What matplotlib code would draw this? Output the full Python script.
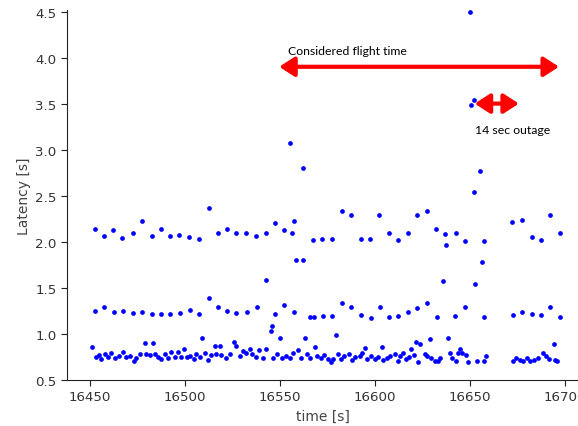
import matplotlib.pyplot as plt

# upper band (~2 s latency)
t_high = [16452.6, 16457.2, 16462.1, 16467.0, 16472.5, 16477.6, 16482.6, 16487.3,
          16492.2, 16497.1, 16502.2, 16507.7, 16512.6, 16517.4, 16522.3, 16527.2,
          16532.3, 16537.4, 16542.7, 16547.5, 16552.4, 16556.2, 16557.5, 16558.7,
          16562.4, 16567.3, 16572.1, 16577.5, 16582.5, 16587.4, 16592.5, 16597.4,
          16602.1, 16607.4, 16612.4, 16617.4, 16622.4, 16627.3, 16632.1, 16637.0,
          16637.5, 16642.6, 16647.5, 16656.2, 16657.5, 16672.2, 16677.6, 16682.7,
          16687.6, 16692.4, 16697.3]
lat_high = [2.14, 2.06, 2.13, 2.04, 2.10, 2.23, 2.06, 2.14,
            2.06, 2.07, 2.05, 2.03, 2.37, 2.10, 2.14, 2.10,
            2.10, 2.06, 2.10, 2.20, 2.13, 2.10, 2.23, 1.80,
            1.80, 2.02, 2.03, 2.03, 2.33, 2.29, 2.03, 2.03,
            2.29, 2.09, 2.02, 2.09, 2.29, 2.33, 2.14, 2.08,
            1.96, 2.10, 2.01, 1.78, 2.01, 2.21, 2.24, 2.05,
            2.02, 2.29, 2.09]

# outliers
t_out = [16555.2, 16562.4, 16650.2, 16650.7, 16652.5, 16655.3, 16652.5,
         16542.7, 16636.1, 16652.8]
lat_out = [3.07, 2.80, 4.49, 3.48, 3.54, 2.77, 2.54,
           1.59, 1.57, 1.54]

# middle band (~1.2 s latency)
t_mid = [16452.6, 16457.2, 16462.7, 16467.6, 16472.7, 16477.6, 16482.6, 16487.3,
         16492.2, 16497.7, 16502.8, 16507.7, 16512.6, 16517.4, 16522.3, 16527.2,
         16532.8, 16537.8, 16547.5, 16552.4, 16557.5, 16545.9, 16545.4, 16550.1,
         16509.1, 16566.1, 16567.8, 16572.8, 16577.5, 16582.5, 16587.4, 16592.5,
         16597.9, 16602.9, 16607.4, 16612.4, 16617.4, 16622.4, 16627.3, 16633.0,
         16642.5, 16647.5, 16657.5, 16672.7, 16677.6, 16682.7, 16687.6, 16692.4,
         16697.3, 16579.4, 16563.1, 16638.4, 16629.1, 16694.2]
lat_mid = [1.25, 1.29, 1.24, 1.25, 1.23, 1.24, 1.22, 1.22,
           1.22, 1.23, 1.26, 1.22, 1.39, 1.29, 1.25, 1.23,
           1.24, 1.29, 1.22, 1.31, 1.24, 1.09, 1.03, 0.95,
           0.95, 1.18, 1.18, 1.19, 1.19, 1.34, 1.29, 1.20,
           1.17, 1.29, 1.18, 1.19, 1.24, 1.28, 1.34, 1.18,
           1.19, 1.29, 1.18, 1.20, 1.24, 1.22, 1.20, 1.29,
           1.18, 0.99, 0.96, 0.95, 0.94, 0.89]

# lower band (~0.75 s latency)
t_low = [16451.2, 16453.0, 16454.7, 16456.0, 16457.8, 16459.5, 16461.2, 16463.0,
         16465.3, 16467.4, 16468.8, 16470.9, 16473.1, 16474.4, 16476.2, 16478.9,
         16479.4, 16481.5, 16483.2, 16484.1, 16485.9, 16487.6, 16489.4, 16491.2,
         16492.9, 16494.7, 16496.4, 16498.2, 16499.4, 16501.2, 16502.9, 16504.7,
         16506.1, 16508.2, 16510.5, 16512.3, 16514.0, 16515.8, 16516.6, 16518.4,
         16519.3, 16521.6, 16523.7, 16525.8, 16527.2, 16529.0, 16530.4, 16532.1,
         16534.3, 16535.6, 16537.4, 16539.2, 16540.9, 16543.0, 16546.6, 16548.3,
         16551.0, 16553.3, 16555.4, 16557.1, 16559.8, 16561.0, 16564.1, 16565.9,
         16568.6, 16569.4, 16571.5, 16573.3, 16575.6, 16576.8, 16577.9, 16580.5,
         16582.3, 16584.0, 16586.3, 16588.1, 16589.8, 16592.0, 16593.4, 16595.1,
         16595.8, 16598.1, 16599.9, 16601.6, 16603.9, 16604.3, 16606.4, 16608.2,
         16610.4, 16612.2, 16613.4, 16614.8, 16616.2, 16618.0, 16619.2, 16620.4,
         16621.5, 16622.7, 16624.0, 16626.3, 16627.5, 16629.8, 16631.5, 16633.3,
         16634.5, 16639.4, 16640.9, 16642.6, 16643.8, 16644.7, 16646.1, 16647.9,
         16649.1, 16653.9, 16657.4, 16658.8, 16672.9, 16674.6, 16676.4, 16678.1,
         16679.9, 16681.7, 16683.8, 16686.1, 16688.4, 16690.1, 16691.9, 16694.9,
         16696.1]
lat_low = [0.86, 0.75, 0.77, 0.73, 0.78, 0.75, 0.79, 0.74,
           0.76, 0.80, 0.75, 0.76, 0.71, 0.74, 0.78, 0.90,
           0.78, 0.77, 0.90, 0.78, 0.75, 0.73, 0.78, 0.74,
           0.80, 0.75, 0.80, 0.75, 0.83, 0.75, 0.76, 0.73,
           0.78, 0.75, 0.79, 0.72, 0.77, 0.87, 0.78, 0.87,
           0.77, 0.74, 0.78, 0.91, 0.87, 0.76, 0.81, 0.79,
           0.84, 0.78, 0.75, 0.82, 0.74, 0.84, 0.74, 0.78,
           0.74, 0.76, 0.74, 0.79, 0.82, 0.74, 0.78, 0.74,
           0.86, 0.76, 0.74, 0.77, 0.73, 0.69, 0.73, 0.78,
           0.73, 0.76, 0.78, 0.72, 0.75, 0.76, 0.79, 0.85,
           0.73, 0.76, 0.73, 0.75, 0.86, 0.72, 0.74, 0.76,
           0.78, 0.71, 0.76, 0.79, 0.73, 0.75, 0.84, 0.77,
           0.91, 0.69, 0.89, 0.78, 0.76, 0.74, 0.71, 0.71,
           0.74, 0.79, 0.74, 0.71, 0.79, 0.84, 0.79, 0.77,
           0.69, 0.71, 0.71, 0.76, 0.70, 0.74, 0.72, 0.70,
           0.74, 0.70, 0.72, 0.74, 0.79, 0.76, 0.73, 0.72,
           0.71]

# annotations
flight_span = (16549.7, 16697.0)
outage_span = (16652.6, 16675.9)

fig = plt.figure(figsize=(5.78, 4.27), dpi=100)
ax = fig.add_axes([0.116, 0.108, 0.884, 0.867])

for t, v in [(t_low, lat_low), (t_mid, lat_mid), (t_high, lat_high), (t_out, lat_out)]:
    ax.plot(t, v, 'o', color='blue', ms=3.4, mew=0, linestyle='none')

ax.set_xlim(16438, 16707)
ax.set_ylim(0.5, 4.52)
ax.set_xticks([16450, 16500, 16550, 16600, 16650, 16700])
ax.set_yticks([0.5, 1.0, 1.5, 2.0, 2.5, 3.0, 3.5, 4.0, 4.5])
ax.spines['top'].set_visible(False)
ax.spines['right'].set_visible(False)
for s in ['left', 'bottom']:
    ax.spines[s].set_color('#222222')
ax.tick_params(labelsize=9.6, labelcolor='#333333', color='#222222', length=4)
ax.set_xlabel('time [s]', fontsize=10, color='#444444', labelpad=4)
ax.set_ylabel('Latency [s]', fontsize=10, color='#444444', labelpad=3)

arrow = dict(arrowstyle='<|-|>,head_length=0.65,head_width=0.42', color='red',
             lw=3, mutation_scale=14, shrinkA=0, shrinkB=0)
ax.annotate('', xy=(flight_span[0], 3.90), xytext=(flight_span[1], 3.90), arrowprops=arrow)
ax.annotate('', xy=(outage_span[0], 3.50), xytext=(outage_span[1], 3.50), arrowprops=arrow)
ax.text(16554.5, 4.08, 'Considered flight time', fontsize=8.8, family='Lato',
        color='black', va='center', ha='left')
ax.text(16652.6, 3.22, '14 sec outage', fontsize=8.8, family='Lato',
        color='black', va='center', ha='left')

fig.savefig('out.png', dpi=100)
